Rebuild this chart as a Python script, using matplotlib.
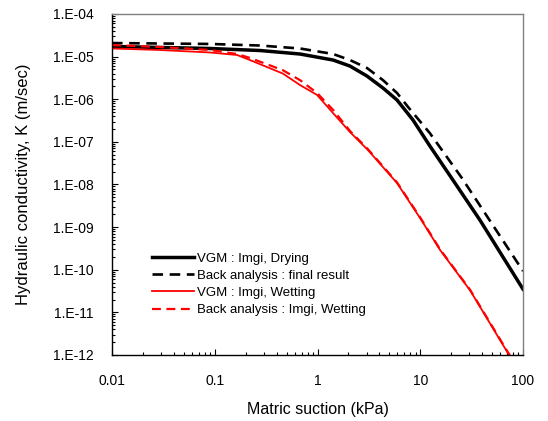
import math
import matplotlib
matplotlib.use('Agg')
import matplotlib.pyplot as plt
from matplotlib.ticker import LogLocator, FuncFormatter, NullFormatter

plt.rcParams['font.family'] = ['Liberation Sans', 'DejaVu Sans']

# values
suction_dry = [0.01, 0.029, 0.09, 0.275, 0.676, 1.42, 2.07, 3.03, 4.34, 5.94, 8.5, 12.4, 20.8, 38.1, 100]
k_vgm_dry = [1.73e-5, 1.64e-5, 1.55e-5, 1.39e-5, 1.15e-5, 8.3e-6, 6.0e-6, 3.5e-6, 1.83e-6, 9.6e-7, 3.25e-7,
             8.0e-8, 1.27e-8, 1.46e-9, 3.5e-11]

suction_back = [0.01, 0.029, 0.09, 0.275, 0.676, 1.42, 2.07, 3.03, 4.34, 5.94, 7.6, 12.4, 25.5, 100]
k_back_final = [2.08e-5, 2.03e-5, 1.98e-5, 1.82e-5, 1.55e-5, 1.15e-5, 8.3e-6, 5.4e-6, 2.8e-6, 1.4e-6, 6.6e-7,
                1.6e-7, 1.4e-8, 9.3e-11]

suction_wet = [0.01, 0.029, 0.09, 0.165, 0.22, 0.46, 0.676, 0.99, 1.42, 2.07, 3.1, 5.94, 9.96, 15.6, 30.5, 71.4, 73.5]
k_vgm_wet = [1.55e-5, 1.43e-5, 1.25e-5, 1.09e-5, 8.3e-6, 4.0e-6, 2.15e-6, 1.26e-6, 4.7e-7, 1.7e-7, 6.4e-8,
             1.08e-8, 1.63e-9, 2.9e-10, 3.3e-11, 1.1e-12, 1.0e-12]

suction_wet_back = [0.01, 0.029, 0.09, 0.165, 0.22, 0.46, 0.676, 0.99, 1.42, 2.07, 3.1, 5.94, 9.96, 15.6, 30.5, 71.4, 74.5]
k_back_wet = [1.87e-5, 1.68e-5, 1.43e-5, 1.15e-5, 9.3e-6, 4.8e-6, 2.8e-6, 1.4e-6, 5.6e-7, 1.8e-7, 6.7e-8,
              1.12e-8, 1.7e-9, 3.0e-10, 3.4e-11, 1.15e-12, 1.0e-12]

fig = plt.figure(figsize=(5.48, 4.21), dpi=100)
ax = fig.add_axes([0.2044, 0.1568, 0.75, 0.81])

ax.plot(suction_dry, k_vgm_dry, color='black', lw=2.5, label='VGM : Imgi, Drying')
ax.plot(suction_back, k_back_final, color='black', lw=1.9, ls=(0, (4, 2.5)), label='Back analysis : final result')
ax.plot(suction_wet, k_vgm_wet, color='#ff0000', lw=1.3, label='VGM : Imgi, Wetting')
ax.plot(suction_wet_back, k_back_wet, color='#ff0000', lw=1.6, ls=(0, (4, 2.5)), label='Back analysis : Imgi, Wetting')

ax.set_xscale('log')
ax.set_yscale('log')
ax.set_xlim(0.01, 100)
ax.set_ylim(1e-12, 1e-4)

ax.xaxis.set_major_locator(LogLocator(base=10, numticks=10))
ax.xaxis.set_minor_locator(LogLocator(base=10, subs=range(2, 10), numticks=20))
ax.yaxis.set_major_locator(LogLocator(base=10, numticks=20))
ax.yaxis.set_minor_locator(LogLocator(base=10, subs=range(2, 10), numticks=40))
ax.xaxis.set_major_formatter(FuncFormatter(lambda v, p: '%g' % v))
ax.yaxis.set_major_formatter(FuncFormatter(lambda v, p: '1.E%+03d' % round(math.log10(v))))
ax.xaxis.set_minor_formatter(NullFormatter())
ax.yaxis.set_minor_formatter(NullFormatter())

ax.tick_params(which='both', direction='in', top=False, right=False, labelsize=10, colors='black')
ax.tick_params(which='major', length=4.5, width=0.8)
ax.tick_params(which='minor', length=2.5, width=0.8)
ax.tick_params(axis='y', which='major', pad=13)
ax.tick_params(axis='x', which='major', pad=14)

for side in ['top', 'right']:
    ax.spines[side].set_color('#808080')
for side in ['left', 'bottom']:
    ax.spines[side].set_color('black')
for s in ax.spines.values():
    s.set_linewidth(1.0)

ax.set_xlabel('Matric suction (kPa)', fontsize=11.5, labelpad=10)
ax.set_ylabel('Hydraulic conductivity, K (m/sec)', fontsize=12, labelpad=16)

ax.legend(loc='lower left', bbox_to_anchor=(0.085, 0.098), frameon=False, fontsize=9.5,
          handlelength=3.2, handletextpad=0.2, labelspacing=0.38, borderaxespad=0)

fig.savefig('out.png', dpi=100)
